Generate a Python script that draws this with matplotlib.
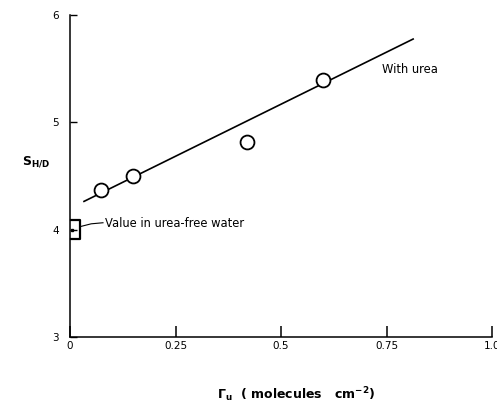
import matplotlib
matplotlib.use("Agg")
import matplotlib.pyplot as plt
import numpy as np

# data
gamma_u = [0.073, 0.149, 0.42, 0.60]          # surface excess of urea
s_hd = [4.37, 4.50, 4.82, 5.40]               # S_H/D with urea
fit_x = [0.033, 0.813]                         # extent of drawn fit line
fit_intercept, fit_slope = 4.20, 1.94
urea_free_x, urea_free_y, urea_free_err = 0.0, 4.0, 0.09

x_ticks = [0, 0.25, 0.5, 0.75, 1.0]
x_labels = ["0", "0.25", "0.5", "0.75", "1.0"]
y_ticks = [3, 4, 5, 6]

plt.rcParams.update({
    "font.family": ["DejaVu Sans"],
    "font.size": 7.5,
    "axes.linewidth": 1.1,
})

fig = plt.figure(figsize=(4.97, 4.09), dpi=100)
ax = fig.add_axes([0.141, 0.176, 0.849, 0.787])

fx = np.array(fit_x)
ax.plot(fx, fit_intercept + fit_slope * fx, color="black", lw=1.2, zorder=2)
ax.plot(gamma_u, s_hd, "o", ms=10, mfc="white", mec="black", mew=1.3,
        zorder=3, clip_on=False)

# urea-free value: dot next to the axis with a bracket
ax.plot([urea_free_x + 0.004], [urea_free_y], "s", ms=2, color="black",
        clip_on=False)
bx0, bx1 = 0.002, 0.023
ax.plot([bx0, bx1, bx1, bx0],
        [urea_free_y + urea_free_err, urea_free_y + urea_free_err,
         urea_free_y - urea_free_err, urea_free_y - urea_free_err],
        color="black", lw=1.6, clip_on=False)
ax.plot([0.025, 0.05, 0.078], [4.03, 4.055, 4.065], color="black", lw=0.8)
ax.text(0.083, 4.06, "Value in urea-free water", fontsize=8.3,
        ha="left", va="center")

ax.text(0.739, 5.49, "With urea", fontsize=8.3, ha="left", va="center")

ax.set_xlim(0, 1.0)
ax.set_ylim(3, 6)
ax.spines["top"].set_visible(False)
ax.spines["right"].set_visible(False)
ax.set_xticks(x_ticks)
ax.set_xticklabels(x_labels)
ax.set_yticks(y_ticks)
ax.tick_params(axis="x", direction="in", length=8, width=1.1, pad=3,
               labelsize=7.5)
ax.tick_params(axis="y", direction="in", length=5, width=1.0, pad=8,
               labelsize=7.5)

fig.text(0.072, 0.605, r"$\mathbf{S_{H/D}}$", fontsize=9, ha="center",
         va="center")
fig.text(0.596, 0.034, r"$\mathbf{\Gamma_u}$  ( molecules   cm$^{\mathbf{-2}}$)",
         fontsize=9, fontweight="bold", ha="center", va="center")

fig.savefig("out.png", dpi=100)
